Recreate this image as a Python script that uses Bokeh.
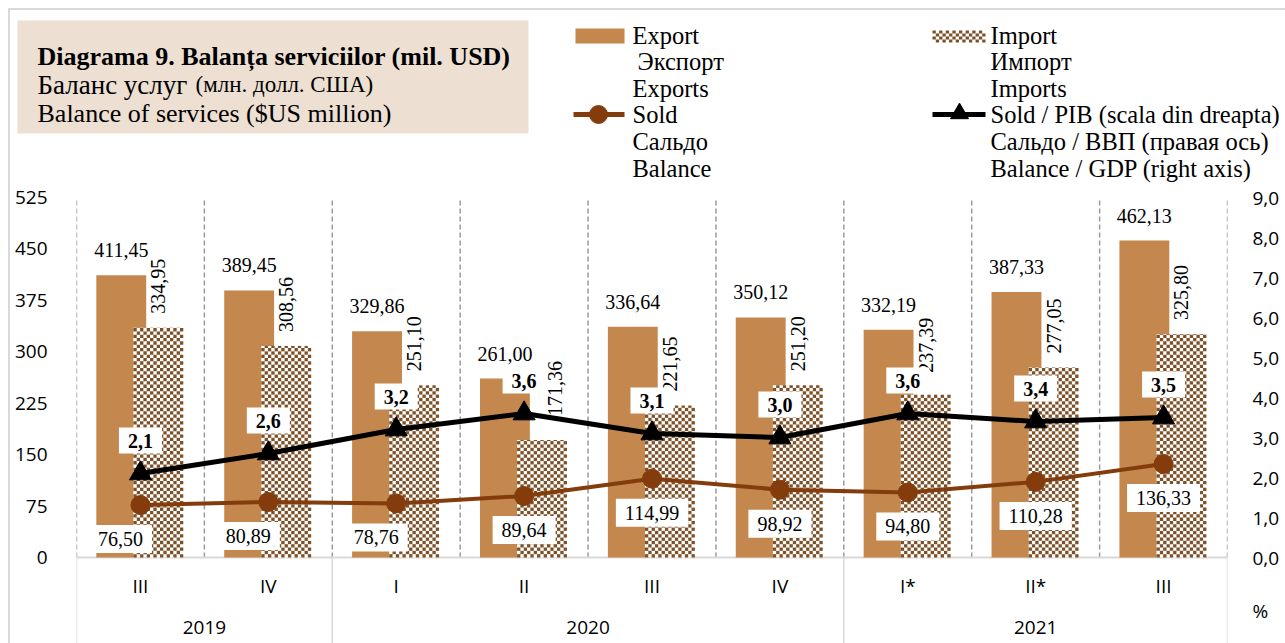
import numpy as np
from bokeh.plotting import figure
from bokeh.layouts import column, row
from bokeh.models import Range1d, LinearAxis, FixedTicker, ColumnDataSource
from bokeh.core.properties import value
from bokeh.embed import file_html
from bokeh.resources import INLINE

# ---------------- data ----------------
quarters = ["III", "IV", "I", "II", "III", "IV", "I*", "II*", "III"]
years = ["2019", "2020", "2021"]
year_spans = [2, 4, 3]
export = [411.45, 389.45, 329.86, 261.00, 336.64, 350.12, 332.19, 387.33, 462.13]
imports = [334.95, 308.56, 251.10, 171.36, 221.65, 251.20, 237.39, 277.05, 325.80]
balance = [76.50, 80.89, 78.76, 89.64, 114.99, 98.92, 94.80, 110.28, 136.33]
balance_gdp = [2.1, 2.6, 3.2, 3.6, 3.1, 3.0, 3.6, 3.4, 3.5]
left_ticks = [0, 75, 150, 225, 300, 375, 450, 525]
right_ticks = [0, 1, 2, 3, 4, 5, 6, 7, 8, 9]

# ---------------- styles / layout ----------------
EXP = "#C4884F"
IMP = "#7D5027"
BAL = "#843C0C"
GRID = "#9a9a9a"
LIGHT = "#d9d9d9"
SERIF = "Liberation Serif"
SANS = "Open Sans"
OX, OY = 10, 10           # page position of the layout content (8px margin + 2px border)
W = 1275
HEAD_B = 185              # page y where header ends
HH = HEAD_B - OY
FRAME_L, FRAME_R = 76, 1227
ZERO_Y, TOP_Y, BOT_Y = 557, 197, 643
HM = BOT_Y - HEAD_B
N = len(quarters)
YMAX = left_ticks[-1]
PMAX = right_ticks[-1]
PX_Y = (ZERO_Y - TOP_Y) / YMAX
FW = FRAME_R - FRAME_L
BAR_W = 0.39
CELL = BAR_W * FW / N / 15        # checker cell (px)


def fmt(v, d=2):
    return f"{v:.{d}f}".replace(".", ",")


def yl(py):
    return (ZERO_Y - py) / PX_Y


def yp(py):
    return (ZERO_Y - py) / (ZERO_Y - TOP_Y) * PMAX


def hx(px):
    return px - OX


def hy(py):
    return py - OY


def checker_quads(left, width, bottom, heights, cx, cy):
    L, R, B, T = [], [], [], []
    for l0, h in zip(left, heights):
        ncol = int(round(width / cx))
        nrow = int(np.ceil(abs(h) / cy - 1e-9))
        sgn = 1 if h >= 0 else -1
        for r in range(nrow):
            for c in range(ncol):
                if (r + c) % 2 == 1:
                    continue
                L.append(l0 + c * cx)
                R.append(l0 + (c + 1) * cx)
                B.append(bottom + sgn * r * cy)
                T.append(bottom + sgn * min((r + 1) * cy, abs(h)))
    return dict(left=L, right=R, bottom=B, top=T)


# ================= header figure (title + legend) =================
hd = figure(width=W, height=HH, x_range=Range1d(0, W), y_range=Range1d(HH, 0),
            output_backend="svg", toolbar_location=None, x_axis_type=None, y_axis_type=None,
            min_border=0, min_border_left=0, min_border_right=0, min_border_top=0,
            min_border_bottom=0)
hd.outline_line_color = None

hd.quad(left=[hx(17)], right=[hx(528)], top=[hy(20)], bottom=[hy(133)],
        fill_color="#EDDFD2", line_color=None)
title_parts = [
    ("Diagrama 9. Balanța serviciilor (mil. USD)", 37, 56, "26px", "bold"),
    ("Баланс услуг", 37, 84, "27px", "normal"),
    ("(млн. долл. США)", 195, 84, "23px", "normal"),
    ("Balance of services ($US million)", 37, 113, "26px", "normal"),
]
for t, x, y, s, st in title_parts:
    hd.text(x=[hx(x)], y=[hy(y)], text=[t], text_font=value(SERIF), text_font_size=s,
            text_font_style=st, text_baseline="alphabetic", text_align="left",
            text_color="black")

rows = [35, 61, 88, 114, 141, 168]
left_txt = ["Export", "Экспорт", "Exports", "Sold", "Сальдо", "Balance"]
right_txt = ["Import", "Импорт", "Imports", "Sold / PIB (scala din dreapta)",
             "Сальдо / ВВП (правая ось)", "Balance / GDP (right axis)"]
lx = [632, 637, 632, 632, 632, 632]
hd.text(x=[hx(v) for v in lx], y=[hy(r) for r in rows], text=left_txt,
        text_font=value(SERIF), text_font_size="24.5px", text_baseline="middle",
        text_color="black")
hd.text(x=[hx(990)] * 6, y=[hy(r) for r in rows], text=right_txt,
        text_font=value(SERIF), text_font_size="24.5px", text_baseline="middle",
        text_color="black")
hd.quad(left=[hx(575)], right=[hx(624)], top=[hy(28)], bottom=[hy(43)],
        fill_color=EXP, line_color=None)
hd.quad(left=[hx(932)], right=[hx(985)], top=[hy(30)], bottom=[hy(42)],
        fill_color="white", line_color=None)
hd.quad(source=ColumnDataSource(checker_quads([hx(932)], 53, hy(30), [12], 53 / 16, 3)),
        left="left", right="right", top="top", bottom="bottom",
        fill_color=IMP, line_color=None)
hd.segment(x0=[hx(573)], y0=[hy(114)], x1=[hx(624)], y1=[hy(114)], line_color=BAL, line_width=5)
hd.scatter(x=[hx(598)], y=[hy(114)], size=18, fill_color=BAL, line_color=BAL)
hd.segment(x0=[hx(932)], y0=[hy(114)], x1=[hx(985)], y1=[hy(114)], line_color="black",
           line_width=5)
hd.scatter(x=[hx(959)], y=[hy(113)], marker="triangle", size=18, fill_color="black",
           line_color="black")

# ================= main figure =================
xc = np.arange(N) + 0.5
src = ColumnDataSource(dict(
    x=xc, xe=xc - 0.15, xi=xc + 0.14,
    export=export, imports=imports, balance=balance, gdp=balance_gdp,
    exp_lbl=[fmt(v) for v in export], imp_lbl=[fmt(v) for v in imports],
    bal_lbl=[fmt(v) for v in balance], gdp_lbl=[fmt(v, 1) for v in balance_gdp],
    imp_dx=[0, 0, 0, 13, 0, 0, 0, 0, 0], imp_dy=[-14, -14, -14, -24, -14, -14, -22, -14, -14],
    bal_dx=[-20, -20, -20, 0, 0, 0, 0, 0, 0],
))

YB = yl(BOT_Y)
p = figure(width=W, height=HM, x_range=Range1d(0, N), y_range=Range1d(YB, YMAX),
           output_backend="svg", toolbar_location=None, x_axis_type=None, y_axis_type=None,
           min_border_left=FRAME_L - OX, min_border_right=W - (FRAME_R - OX),
           min_border_top=TOP_Y - HEAD_B, min_border_bottom=0)
p.outline_line_color = None
p.extra_y_ranges = {"pct": Range1d(yp(BOT_Y), PMAX)}

ly = LinearAxis(ticker=FixedTicker(ticks=left_ticks), axis_line_color=None,
                major_tick_line_color=None, minor_tick_line_color=None,
                major_label_standoff=23, major_label_text_font=SANS,
                major_label_text_font_size="19px", major_label_text_color="black")
p.add_layout(ly, "left")
pct_pos = yp(610)
ry = LinearAxis(y_range_name="pct", ticker=FixedTicker(ticks=right_ticks + [pct_pos]),
                axis_line_color=None, major_tick_line_color=None, minor_tick_line_color=None,
                major_label_standoff=19, major_label_text_font=SANS,
                major_label_text_font_size="19px", major_label_text_color="black",
                major_label_overrides={**{t: fmt(t, 1) for t in right_ticks}, pct_pos: "%"})
p.add_layout(ry, "right")

bounds = list(range(N + 1))
p.segment(x0=bounds, y0=[0] * len(bounds), x1=bounds, y1=[YMAX] * len(bounds),
          line_color=GRID, line_width=1.5, line_dash="5 3")
p.segment(x0=[0], y0=[0], x1=[N], y1=[0], line_color=LIGHT, line_width=2)
seps = list(np.cumsum([0] + year_spans))
p.segment(x0=seps, y0=[0] * len(seps), x1=seps, y1=[YB] * len(seps),
          line_color=LIGHT, line_width=1.5)

p.vbar(x="xe", top="export", width=BAR_W, source=src, fill_color=EXP, line_color=None)
p.vbar(x="xi", top="imports", width=BAR_W, source=src, fill_color="white", line_color=None)
cx = CELL / FW * N
cy = CELL / PX_Y
p.quad(source=ColumnDataSource(checker_quads(list(xc + 0.14 - BAR_W / 2), BAR_W, 0,
                                             imports, cx, cy)),
       left="left", right="right", top="top", bottom="bottom", fill_color=IMP, line_color=None)

p.line(x="x", y="balance", source=src, line_color=BAL, line_width=4)
p.scatter(x="x", y="balance", source=src, size=19, fill_color=BAL, line_color=BAL)
p.line(x="x", y="gdp", source=src, y_range_name="pct", line_color="black", line_width=5)
p.scatter(x="x", y="gdp", source=src, y_range_name="pct", marker="triangle", size=22,
          fill_color="black", line_color="black")

p.text(x="xe", y="export", text="exp_lbl", source=src, text_align="center",
       text_baseline="middle", y_offset=-25, text_font=value(SERIF), text_font_size="20px",
       text_color="black")
p.text(x="xi", y="imports", text="imp_lbl", source=src, angle=np.pi / 2, text_align="left",
       text_baseline="middle", x_offset="imp_dx", y_offset="imp_dy", text_font=value(SERIF),
       text_font_size="20px", text_color="black")
p.text(x="x", y="balance", text="bal_lbl", source=src, text_align="center",
       text_baseline="middle", x_offset="bal_dx", y_offset=34, text_font=value(SERIF),
       text_font_size="20px", text_color="black", background_fill_color="white",
       padding=(9, 7))
p.text(x="x", y="gdp", text="gdp_lbl", source=src, y_range_name="pct", text_align="center",
       text_baseline="middle", y_offset=-33, text_font=value(SERIF), text_font_size="20px",
       text_font_style="bold", text_color="black", background_fill_color="white",
       padding=(9, 6))

ycent = [(a + b) / 2 for a, b in zip(seps[:-1], seps[1:])]
p.text(x=list(xc), y=[yl(585)] * N, text=quarters, text_align="center", text_baseline="middle",
       text_font=value(SANS), text_font_size="19px", text_color="black")
p.text(x=ycent, y=[yl(627)] * len(years), text=years, text_align="center",
       text_baseline="middle", text_font=value(SANS), text_font_size="19px",
       text_color="black")

box_style = {"margin-left": "8px", "margin-top": "8px",
             "border-left": f"2px solid {LIGHT}", "border-top": f"2px solid {LIGHT}"}
if "frame_align" in hd.properties():
    hd.frame_align = False
    p.frame_align = False
    layout = column(hd, p, styles=box_style)
else:
    layout = column(hd, row(p), styles=box_style)
open("out.html", "w").write(file_html(layout, INLINE))
